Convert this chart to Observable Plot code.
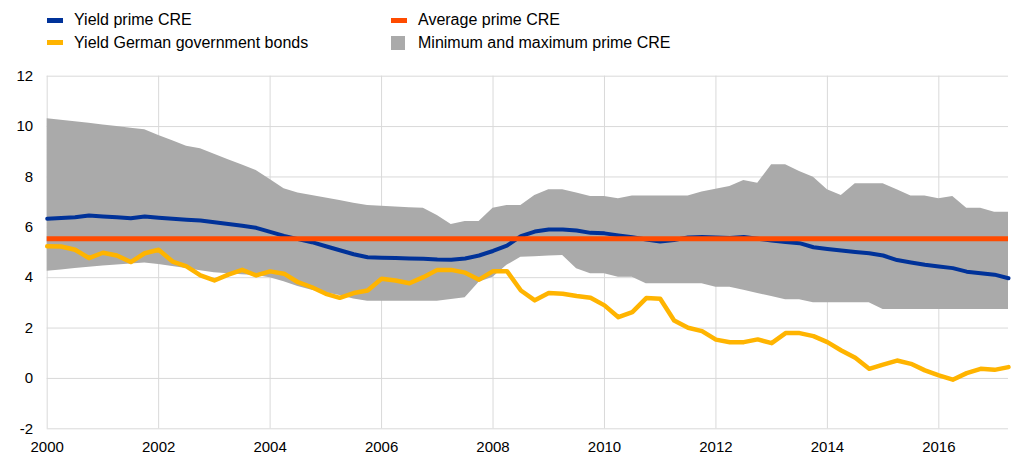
<!DOCTYPE html>
<html>
<head>
<meta charset="utf-8">
<script src="https://cdn.jsdelivr.net/npm/d3@7"></script>
<script src="https://cdn.jsdelivr.net/npm/@observablehq/plot@0.6"></script>
<style>
  html, body { margin: 0; padding: 0; background: #fff; }
  body { width: 1012px; height: 455px; overflow: hidden; font-family: "Liberation Sans", Arial, sans-serif; color: #000; }
  #legend { position: relative; width: 1012px; height: 56px; }
  .sw { position: absolute; }
  .lt { position: absolute; font-size: 16px; line-height: 18px; white-space: nowrap; }
  #chart svg { display: block; }
</style>
</head>
<body>
<div id="legend">
  <div class="sw" style="left:47px; top:18px; width:16px; height:5px; background:#003299"></div>
  <div class="lt" style="left:74px; top:11px;">Yield prime CRE</div>
  <div class="sw" style="left:47px; top:40px; width:16px; height:5px; background:#ffb400"></div>
  <div class="lt" style="left:74px; top:34px;">Yield German government bonds</div>
  <div class="sw" style="left:391px; top:18px; width:16px; height:5px; background:#ff4b00"></div>
  <div class="lt" style="left:418px; top:11px;">Average prime CRE</div>
  <div class="sw" style="left:391px; top:36px; width:14px; height:14px; background:#aaaaaa"></div>
  <div class="lt" style="left:418px; top:34px;">Minimum and maximum prime CRE</div>
</div>
<div id="chart"></div>
<script>
// Quarterly observations, 2000 Q1 .. 2017 Q2 (decimal years)
const dates = [
  2000.00, 2000.25, 2000.50, 2000.75, 2001.00, 2001.25, 2001.50, 2001.75,
  2002.00, 2002.25, 2002.50, 2002.75, 2003.00, 2003.25, 2003.50, 2003.75,
  2004.00, 2004.25, 2004.50, 2004.75, 2005.00, 2005.25, 2005.50, 2005.75,
  2006.00, 2006.25, 2006.50, 2006.75, 2007.00, 2007.25, 2007.50, 2007.75,
  2008.00, 2008.25, 2008.50, 2008.75, 2009.00, 2009.25, 2009.50, 2009.75,
  2010.00, 2010.25, 2010.50, 2010.75, 2011.00, 2011.25, 2011.50, 2011.75,
  2012.00, 2012.25, 2012.50, 2012.75, 2013.00, 2013.25, 2013.50, 2013.75,
  2014.00, 2014.25, 2014.50, 2014.75, 2015.00, 2015.25, 2015.50, 2015.75,
  2016.00, 2016.25, 2016.50, 2016.75, 2017.00, 2017.25
];
const maxPrimeCRE = [
  10.31, 10.25, 10.19, 10.13, 10.06, 10.00, 9.93, 9.87,
  9.65, 9.44, 9.22, 9.12, 8.90, 8.68, 8.47, 8.26,
  7.90, 7.53, 7.36, 7.26, 7.16, 7.06, 6.96, 6.87,
  6.84, 6.81, 6.78, 6.76, 6.47, 6.11, 6.23, 6.23,
  6.76, 6.87, 6.87, 7.26, 7.49, 7.49, 7.36, 7.22,
  7.22, 7.13, 7.24, 7.24, 7.24, 7.24, 7.24, 7.40,
  7.51, 7.62, 7.86, 7.75, 8.48, 8.48, 8.22, 7.99,
  7.49, 7.26, 7.73, 7.73, 7.73, 7.49, 7.24, 7.24,
  7.13, 7.22, 6.76, 6.76, 6.60, 6.60
];
const minPrimeCRE = [
  4.26, 4.31, 4.36, 4.41, 4.46, 4.50, 4.54, 4.58,
  4.52, 4.44, 4.36, 4.28, 4.20, 4.16, 4.12, 4.09,
  4.00, 3.84, 3.65, 3.50, 3.40, 3.29, 3.15, 3.06,
  3.06, 3.06, 3.06, 3.06, 3.06, 3.13, 3.20, 3.82,
  4.02, 4.49, 4.81, 4.83, 4.86, 4.88, 4.35, 4.16,
  4.16, 4.02, 4.02, 3.76, 3.76, 3.76, 3.76, 3.76,
  3.62, 3.62, 3.50, 3.37, 3.25, 3.12, 3.12, 3.00,
  3.00, 3.00, 3.00, 3.00, 2.74, 2.74, 2.74, 2.74,
  2.74, 2.74, 2.74, 2.74, 2.74, 2.74
];
const yieldPrimeCRE = [
  6.34, 6.37, 6.40, 6.47, 6.43, 6.40, 6.36, 6.43,
  6.38, 6.34, 6.30, 6.27, 6.20, 6.13, 6.06, 5.98,
  5.82, 5.66, 5.53, 5.41, 5.25, 5.09, 4.93, 4.81,
  4.79, 4.78, 4.76, 4.75, 4.72, 4.71, 4.76, 4.88,
  5.06, 5.27, 5.65, 5.83, 5.91, 5.91, 5.87, 5.78,
  5.76, 5.68, 5.61, 5.52, 5.44, 5.50, 5.60, 5.62,
  5.60, 5.58, 5.62, 5.55, 5.48, 5.42, 5.37, 5.21,
  5.14, 5.08, 5.02, 4.97, 4.88, 4.70, 4.60, 4.51,
  4.44, 4.38, 4.24, 4.18, 4.12, 3.98
];
const yieldBund = [
  5.25, 5.24, 5.11, 4.78, 4.99, 4.88, 4.62, 4.97,
  5.11, 4.64, 4.45, 4.09, 3.89, 4.12, 4.31, 4.09,
  4.25, 4.16, 3.82, 3.62, 3.36, 3.20, 3.39, 3.49,
  3.96, 3.89, 3.78, 4.02, 4.31, 4.31, 4.20, 3.92,
  4.26, 4.26, 3.49, 3.10, 3.39, 3.36, 3.27, 3.20,
  2.90, 2.43, 2.63, 3.19, 3.16, 2.30, 2.01, 1.88,
  1.54, 1.44, 1.44, 1.55, 1.40, 1.80, 1.80, 1.68,
  1.44, 1.11, 0.82, 0.38, 0.55, 0.71, 0.58, 0.32,
  0.12, -0.05, 0.21, 0.38, 0.34, 0.45
];
const averagePrimeCRE = 5.55;
const xTicks = [2000, 2002, 2004, 2006, 2008, 2010, 2012, 2014, 2016];
const yTicks = [-2, 0, 2, 4, 6, 8, 10, 12];

const rows = dates.map((d, i) => ({
  date: d,
  min: minPrimeCRE[i],
  max: maxPrimeCRE[i],
  cre: yieldPrimeCRE[i],
  bund: yieldBund[i]
}));

const chart = Plot.plot({
  width: 1012,
  height: 399,
  marginLeft: 46.7,
  marginRight: 4,
  marginTop: 19.7,
  marginBottom: 26.7,
  style: { fontFamily: "Liberation Sans, Arial, sans-serif", fontSize: "15px", color: "#000", background: "#fff", overflow: "visible" },
  x: { domain: [2000, 2017.25], label: null },
  y: { domain: [-2, 12], label: null },
  marks: [
    Plot.gridX(xTicks, { stroke: "#d9d9d9", strokeOpacity: 1, strokeWidth: 1 }),
    Plot.gridY(yTicks, { stroke: "#d9d9d9", strokeOpacity: 1, strokeWidth: 1 }),
    Plot.areaY(rows, { x: "date", y1: "min", y2: "max", fill: "#aaaaaa", curve: "linear" }),
    Plot.line(rows, { x: "date", y: "bund", stroke: "#ffb400", strokeWidth: 4.5, curve: "linear" }),
    Plot.line(rows, { x: "date", y: "cre", stroke: "#003299", strokeWidth: 4, curve: "linear" }),
    Plot.ruleY([averagePrimeCRE], { stroke: "#ff4b00", strokeWidth: 5 }),
    Plot.axisX({ ticks: xTicks, tickSize: 0, tickPadding: 13, tickFormat: d => String(d), fontSize: 15, label: null }),
    Plot.axisY({ ticks: yTicks, tickSize: 0, tickPadding: 14, tickFormat: d => String(d), fontSize: 15, label: null })
  ]
});
document.getElementById("chart").appendChild(chart);
</script>
</body>
</html>
